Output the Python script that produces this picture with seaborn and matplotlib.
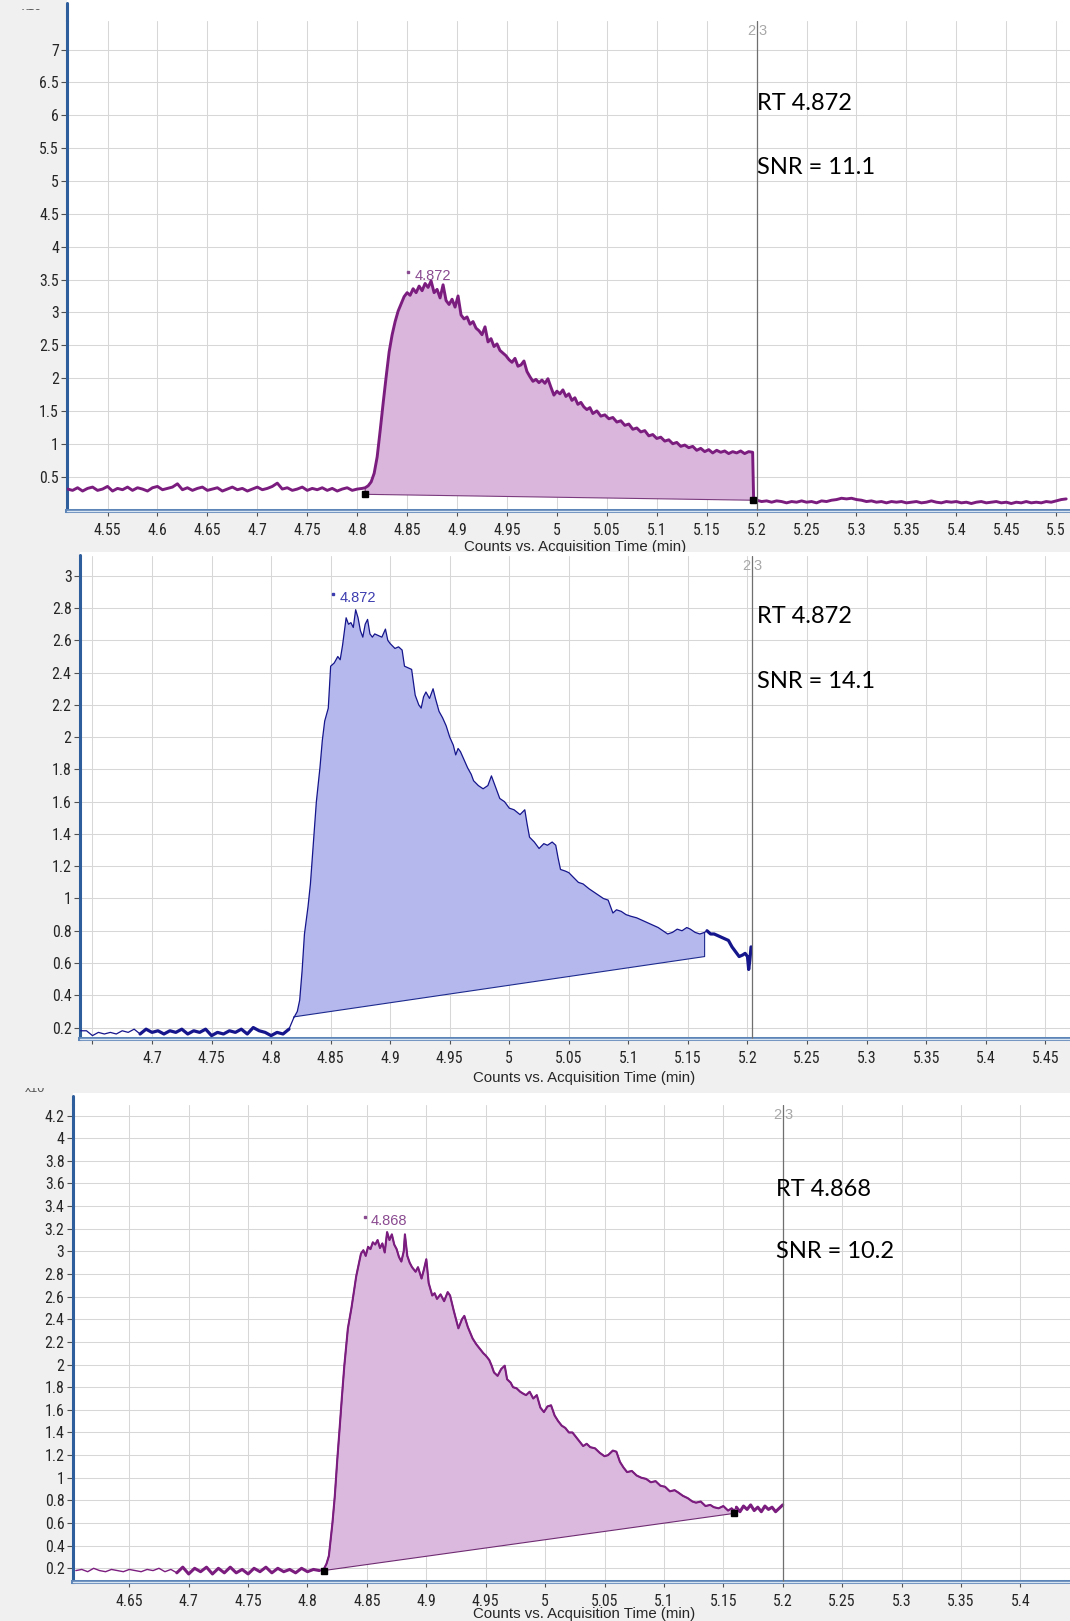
import matplotlib
matplotlib.use("Agg")
import matplotlib.pyplot as plt
from matplotlib import font_manager
from matplotlib.lines import Line2D
from matplotlib.patches import Rectangle
from matplotlib.transforms import Bbox
import seaborn as sns

# ---------------------------------------------------------------- data
XLABEL = "Counts vs. Acquisition Time (min)"

# Chromatogram 1 (purple)
p1_pre_time = [4.510, 4.515, 4.520, 4.525, 4.530, 4.535, 4.540, 4.545, 4.550, 4.555,
               4.560, 4.565, 4.570, 4.575, 4.580, 4.585, 4.590, 4.595, 4.600, 4.605,
               4.610, 4.615, 4.620, 4.625, 4.630, 4.635, 4.640, 4.645, 4.650, 4.655,
               4.660, 4.665, 4.670, 4.675, 4.680, 4.685, 4.690, 4.695, 4.700, 4.705,
               4.710, 4.715, 4.720, 4.725, 4.730, 4.735, 4.740, 4.745, 4.750, 4.755,
               4.760, 4.765, 4.770, 4.775, 4.780, 4.785, 4.790, 4.795, 4.800, 4.805]
p1_pre_counts = [0.31, 0.29, 0.33, 0.28, 0.32, 0.34, 0.29, 0.31, 0.35, 0.28,
                 0.32, 0.30, 0.34, 0.29, 0.33, 0.31, 0.28, 0.33, 0.35, 0.30,
                 0.32, 0.34, 0.39, 0.30, 0.33, 0.29, 0.32, 0.34, 0.29, 0.31,
                 0.33, 0.28, 0.31, 0.34, 0.30, 0.32, 0.28, 0.31, 0.34, 0.30,
                 0.32, 0.35, 0.40, 0.31, 0.33, 0.29, 0.31, 0.34, 0.29, 0.32,
                 0.30, 0.33, 0.29, 0.32, 0.28, 0.31, 0.33, 0.29, 0.31, 0.32]
p1_peak_time = [4.808, 4.811, 4.814, 4.817, 4.820, 4.823, 4.826, 4.829, 4.832, 4.835,
                4.838, 4.841, 4.844, 4.847, 4.850, 4.853, 4.856, 4.859, 4.862, 4.865,
                4.868, 4.871, 4.874, 4.877, 4.880, 4.883, 4.886, 4.889, 4.892, 4.895,
                4.898, 4.901, 4.904, 4.907, 4.910, 4.913, 4.916, 4.919, 4.922, 4.925,
                4.928, 4.931, 4.934, 4.937, 4.940, 4.943, 4.946, 4.949, 4.952, 4.955,
                4.958, 4.961, 4.964, 4.967, 4.970, 4.973, 4.976, 4.979, 4.982, 4.985,
                4.988, 4.991, 4.994, 4.997, 5.000, 5.003, 5.006, 5.009, 5.012, 5.015,
                5.018, 5.021, 5.024, 5.027, 5.030, 5.033, 5.036, 5.040, 5.044, 5.048,
                5.052, 5.056, 5.060, 5.064, 5.068, 5.072, 5.076, 5.080, 5.084, 5.088,
                5.092, 5.096, 5.100, 5.104, 5.108, 5.112, 5.116, 5.120, 5.124, 5.128,
                5.132, 5.136, 5.140, 5.144, 5.148, 5.152, 5.156, 5.160, 5.164, 5.168,
                5.172, 5.176, 5.180, 5.184, 5.188, 5.192, 5.196, 5.197]
p1_peak_counts = [0.33, 0.36, 0.42, 0.55, 0.80, 1.20, 1.62, 2.02, 2.40, 2.66,
                  2.86, 3.02, 3.13, 3.24, 3.30, 3.26, 3.36, 3.30, 3.40, 3.33,
                  3.44, 3.38, 3.48, 3.30, 3.35, 3.22, 3.42, 3.18, 3.12, 3.20,
                  3.08, 3.25, 2.96, 2.90, 2.93, 2.82, 2.86, 2.76, 2.72, 2.66,
                  2.78, 2.55, 2.60, 2.48, 2.52, 2.42, 2.38, 2.34, 2.28, 2.24,
                  2.30, 2.18, 2.20, 2.26, 2.10, 2.02, 1.95, 1.98, 1.93, 1.97,
                  1.92, 1.99, 1.86, 1.74, 1.80, 1.76, 1.82, 1.72, 1.76, 1.66,
                  1.70, 1.60, 1.63, 1.56, 1.52, 1.55, 1.46, 1.50, 1.42, 1.44,
                  1.38, 1.40, 1.33, 1.35, 1.28, 1.30, 1.22, 1.24, 1.18, 1.20,
                  1.12, 1.14, 1.08, 1.10, 1.04, 1.06, 1.00, 1.02, 0.96, 0.98,
                  0.94, 0.96, 0.90, 0.93, 0.88, 0.91, 0.86, 0.90, 0.87, 0.89,
                  0.85, 0.88, 0.86, 0.89, 0.85, 0.88, 0.87, 0.14]
p1_post_time = [5.200, 5.205, 5.210, 5.215, 5.220, 5.225, 5.230, 5.235, 5.240, 5.245,
                5.250, 5.255, 5.260, 5.265, 5.270, 5.275, 5.280, 5.285, 5.290, 5.295,
                5.300, 5.305, 5.310, 5.315, 5.320, 5.325, 5.330, 5.335, 5.340, 5.345,
                5.350, 5.355, 5.360, 5.365, 5.370, 5.375, 5.380, 5.385, 5.390, 5.395,
                5.400, 5.405, 5.410, 5.415, 5.420, 5.425, 5.430, 5.435, 5.440, 5.445,
                5.450, 5.455, 5.460, 5.465, 5.470, 5.475, 5.480, 5.485, 5.490, 5.495,
                5.500, 5.505, 5.510]
p1_post_counts = [0.14, 0.12, 0.13, 0.11, 0.13, 0.12, 0.10, 0.12, 0.11, 0.13,
                  0.11, 0.12, 0.10, 0.13, 0.12, 0.14, 0.15, 0.17, 0.16, 0.17,
                  0.15, 0.14, 0.12, 0.13, 0.11, 0.12, 0.10, 0.12, 0.11, 0.12,
                  0.10, 0.11, 0.12, 0.10, 0.11, 0.13, 0.11, 0.10, 0.12, 0.11,
                  0.12, 0.10, 0.11, 0.09, 0.11, 0.12, 0.10, 0.11, 0.12, 0.10,
                  0.11, 0.09, 0.11, 0.10, 0.12, 0.10, 0.11, 0.10, 0.12, 0.11,
                  0.13, 0.15, 0.16]
p1_base_time = [4.808, 5.196]
p1_base_counts = [0.23, 0.14]
p1_rt, p1_snr = "4.872", "11.1"

# Chromatogram 2 (blue)
p2_lead_time = [4.640, 4.645, 4.650, 4.655, 4.660, 4.665, 4.670, 4.675, 4.680, 4.685]
p2_lead_counts = [0.18, 0.18, 0.15, 0.17, 0.16, 0.17, 0.16, 0.18, 0.17, 0.19]
p2_pre_time = [4.690, 4.695, 4.700, 4.705, 4.710, 4.715, 4.720, 4.725, 4.730, 4.735,
               4.740, 4.745, 4.750, 4.755, 4.760, 4.765, 4.770, 4.775, 4.780, 4.785,
               4.790, 4.795, 4.800, 4.805, 4.810, 4.815]
p2_pre_counts = [0.16, 0.19, 0.17, 0.18, 0.16, 0.18, 0.17, 0.19, 0.16, 0.18,
                 0.17, 0.19, 0.15, 0.17, 0.16, 0.18, 0.17, 0.19, 0.16, 0.20,
                 0.18, 0.17, 0.15, 0.17, 0.16, 0.19]
p2_peak_time = [4.819, 4.822, 4.824, 4.826, 4.828, 4.831, 4.833, 4.836, 4.838, 4.841,
                4.843, 4.845, 4.848, 4.850, 4.853, 4.856, 4.858, 4.860, 4.863, 4.865,
                4.867, 4.869, 4.871, 4.873, 4.875, 4.877, 4.879, 4.881, 4.883, 4.885,
                4.887, 4.890, 4.893, 4.896, 4.898, 4.900, 4.904, 4.907, 4.910, 4.912,
                4.915, 4.918, 4.921, 4.924, 4.926, 4.928, 4.930, 4.933, 4.936, 4.938,
                4.941, 4.944, 4.947, 4.950, 4.953, 4.955, 4.957, 4.959, 4.962, 4.965,
                4.968, 4.970, 4.974, 4.978, 4.982, 4.985, 4.988, 4.992, 4.996, 5.000,
                5.004, 5.009, 5.013, 5.015, 5.017, 5.021, 5.025, 5.029, 5.032, 5.036,
                5.039, 5.041, 5.043, 5.047, 5.050, 5.054, 5.058, 5.062, 5.067, 5.071,
                5.075, 5.079, 5.083, 5.087, 5.090, 5.094, 5.098, 5.102, 5.107, 5.113,
                5.119, 5.125, 5.129, 5.133, 5.137, 5.141, 5.145, 5.149, 5.152, 5.156,
                5.160, 5.164]
p2_peak_counts = [0.26, 0.30, 0.37, 0.55, 0.78, 0.95, 1.09, 1.40, 1.60, 1.81,
                  1.98, 2.10, 2.18, 2.44, 2.46, 2.50, 2.48, 2.57, 2.74, 2.70,
                  2.71, 2.68, 2.79, 2.74, 2.66, 2.62, 2.70, 2.73, 2.64, 2.62,
                  2.64, 2.63, 2.62, 2.67, 2.60, 2.58, 2.55, 2.56, 2.54, 2.44,
                  2.43, 2.42, 2.26, 2.20, 2.18, 2.25, 2.28, 2.24, 2.30, 2.24,
                  2.16, 2.12, 2.07, 2.00, 1.95, 1.89, 1.93, 1.91, 1.86, 1.81,
                  1.77, 1.73, 1.70, 1.68, 1.70, 1.76, 1.70, 1.62, 1.60, 1.56,
                  1.55, 1.52, 1.55, 1.46, 1.38, 1.35, 1.31, 1.34, 1.33, 1.35,
                  1.33, 1.25, 1.18, 1.17, 1.16, 1.13, 1.10, 1.09, 1.06, 1.04,
                  1.02, 1.00, 0.99, 0.91, 0.93, 0.92, 0.90, 0.89, 0.88, 0.86,
                  0.84, 0.82, 0.80, 0.78, 0.79, 0.81, 0.80, 0.82, 0.81, 0.79,
                  0.78, 0.79]
p2_post_time = [5.166, 5.169, 5.172, 5.175, 5.178, 5.181, 5.184, 5.187, 5.190, 5.193,
                5.196, 5.198, 5.200, 5.201, 5.202, 5.203]
p2_post_counts = [0.80, 0.78, 0.78, 0.77, 0.76, 0.75, 0.74, 0.70, 0.67, 0.64,
                  0.65, 0.66, 0.64, 0.56, 0.62, 0.70]
p2_base_time = [4.819, 5.164]
p2_base_counts = [0.266, 0.64]
p2_rt, p2_snr = "4.872", "14.1"

# Chromatogram 3 (purple)
p3_lead_time = [4.605, 4.610, 4.615, 4.620, 4.625, 4.630, 4.635, 4.640, 4.645, 4.650,
                4.655, 4.660, 4.665, 4.670, 4.675, 4.680, 4.685]
p3_lead_counts = [0.18, 0.19, 0.17, 0.20, 0.18, 0.17, 0.19, 0.18, 0.17, 0.19,
                  0.18, 0.17, 0.19, 0.18, 0.20, 0.17, 0.19]
p3_pre_time = [4.690, 4.695, 4.700, 4.705, 4.710, 4.715, 4.720, 4.725, 4.730, 4.735,
               4.740, 4.745, 4.750, 4.755, 4.760, 4.765, 4.770, 4.775, 4.780, 4.785,
               4.790, 4.795, 4.800, 4.805, 4.810]
p3_pre_counts = [0.16, 0.21, 0.15, 0.20, 0.17, 0.21, 0.15, 0.20, 0.16, 0.21,
                 0.16, 0.19, 0.15, 0.20, 0.17, 0.21, 0.16, 0.20, 0.17, 0.19,
                 0.16, 0.20, 0.17, 0.19, 0.18]
p3_peak_time = [4.8136, 4.816, 4.818, 4.821, 4.823, 4.825, 4.827, 4.829, 4.831, 4.834,
                4.837, 4.839, 4.841, 4.843, 4.845, 4.847, 4.849, 4.851, 4.853, 4.855,
                4.857, 4.859, 4.861, 4.863, 4.865, 4.867, 4.869, 4.871, 4.873, 4.875,
                4.877, 4.879, 4.881, 4.882, 4.884, 4.886, 4.888, 4.891, 4.893, 4.896,
                4.898, 4.900, 4.902, 4.905, 4.907, 4.909, 4.912, 4.915, 4.918, 4.920,
                4.923, 4.925, 4.927, 4.930, 4.932, 4.935, 4.937, 4.939, 4.942, 4.945,
                4.948, 4.950, 4.953, 4.955, 4.957, 4.960, 4.963, 4.966, 4.968, 4.971,
                4.973, 4.976, 4.979, 4.982, 4.984, 4.987, 4.990, 4.993, 4.996, 4.999,
                5.002, 5.005, 5.008, 5.011, 5.014, 5.017, 5.020, 5.023, 5.026, 5.029,
                5.032, 5.035, 5.038, 5.042, 5.046, 5.050, 5.053, 5.057, 5.060, 5.063,
                5.066, 5.069, 5.073, 5.077, 5.081, 5.085, 5.089, 5.093, 5.097, 5.101,
                5.105, 5.109, 5.112, 5.116, 5.120, 5.124, 5.127, 5.131, 5.135, 5.139,
                5.142, 5.146, 5.150, 5.154, 5.157, 5.159]
p3_peak_counts = [0.19, 0.24, 0.31, 0.60, 0.84, 1.15, 1.43, 1.72, 1.99, 2.32,
                  2.50, 2.64, 2.78, 2.88, 2.98, 3.01, 2.96, 3.04, 3.02, 3.08,
                  3.06, 3.10, 3.03, 3.07, 2.99, 3.17, 3.10, 3.15, 3.06, 3.02,
                  2.95, 2.91, 3.00, 3.15, 2.96, 2.90, 2.86, 2.82, 2.86, 2.76,
                  2.84, 2.93, 2.72, 2.61, 2.63, 2.58, 2.62, 2.56, 2.64, 2.61,
                  2.48, 2.40, 2.32, 2.40, 2.43, 2.33, 2.28, 2.23, 2.18, 2.14,
                  2.10, 2.08, 2.04, 1.99, 1.93, 1.90, 1.96, 1.99, 1.87, 1.84,
                  1.80, 1.79, 1.76, 1.74, 1.73, 1.76, 1.70, 1.73, 1.62, 1.58,
                  1.63, 1.64, 1.55, 1.50, 1.46, 1.44, 1.40, 1.40, 1.36, 1.32,
                  1.28, 1.30, 1.27, 1.26, 1.22, 1.19, 1.20, 1.24, 1.23, 1.14,
                  1.09, 1.05, 1.06, 1.02, 1.00, 0.99, 0.96, 0.97, 0.93, 0.92,
                  0.88, 0.89, 0.87, 0.84, 0.82, 0.79, 0.78, 0.79, 0.75, 0.76,
                  0.74, 0.73, 0.75, 0.71, 0.73, 0.71]
p3_post_time = [5.161, 5.164, 5.167, 5.170, 5.173, 5.176, 5.179, 5.182, 5.185, 5.188,
                5.191, 5.194, 5.197, 5.200]
p3_post_counts = [0.74, 0.70, 0.75, 0.72, 0.76, 0.71, 0.74, 0.70, 0.75, 0.72,
                  0.74, 0.70, 0.73, 0.76]
p3_base_time = [4.8136, 5.159]
p3_base_counts = [0.18, 0.685]
p3_rt, p3_snr = "4.868", "10.2"

# axis ticks
p1_xticks = [4.55, 4.6, 4.65, 4.7, 4.75, 4.8, 4.85, 4.9, 4.95, 5.0, 5.05, 5.1,
             5.15, 5.2, 5.25, 5.3, 5.35, 5.4, 5.45, 5.5]
p1_yticks = [0.5, 1, 1.5, 2, 2.5, 3, 3.5, 4, 4.5, 5, 5.5, 6, 6.5, 7]
p2_xticks = [4.65, 4.7, 4.75, 4.8, 4.85, 4.9, 4.95, 5.0, 5.05, 5.1, 5.15, 5.2,
             5.25, 5.3, 5.35, 5.4, 5.45]
p2_xticklabels = ["", "4.7", "4.75", "4.8", "4.85", "4.9", "4.95", "5", "5.05", "5.1",
                  "5.15", "5.2", "5.25", "5.3", "5.35", "5.4", "5.45"]
p2_yticks = [0.2, 0.4, 0.6, 0.8, 1, 1.2, 1.4, 1.6, 1.8, 2, 2.2, 2.4, 2.6, 2.8, 3]
p3_xticks = [4.65, 4.7, 4.75, 4.8, 4.85, 4.9, 4.95, 5.0, 5.05, 5.1, 5.15, 5.2,
             5.25, 5.3, 5.35, 5.4]
p3_yticks = [0.2, 0.4, 0.6, 0.8, 1, 1.2, 1.4, 1.6, 1.8, 2, 2.2, 2.4, 2.6, 2.8,
             3, 3.2, 3.4, 3.6, 3.8, 4, 4.2]

# ---------------------------------------------------------------- style
sns.set_theme(style="ticks")
plt.rcParams["font.family"] = ["Liberation Sans", "DejaVu Sans"]
installed = {f.name for f in font_manager.fontManager.ttflist}
NOTE_FONT = next((n for n in ["Lato", "Open Sans", "Noto Sans"] if n in installed),
                 "DejaVu Sans")
NARROW = next((n for n in ["Liberation Sans Narrow", "Roboto Condensed",
                           "Open Sans Condensed"] if n in installed), None)
if NARROW:
    TICK_FONT, TICK_SIZE = [NARROW, "DejaVu Sans"], 11.4
else:
    TICK_FONT, TICK_SIZE = ["Liberation Sans", "DejaVu Sans"], 9.6

W, H = 1070, 1621
fig = plt.figure(figsize=(W / 100, H / 100), dpi=100)
fig.patch.set_facecolor("#f0f0f0")

SPINE_BLUE = "#2f5e9c"
GRID = "#d7d7d7"
TICK_TXT = "#262626"


def fx(px):
    return px / W


def fy(py):
    return 1 - py / H


def fmt(v):
    return f"{round(v, 2):g}"


def clip_to(t, x0, y0, x1, y1):
    t.set_clip_box(Bbox.from_extents(x0, H - y1, x1, H - y0))
    t.set_clip_on(True)


def draw_panel(cfg):
    x0, y0, x1, y1 = cfg["box"]
    hy = cfg["header_top"]
    # white band above the plotting area (header strip)
    fig.add_artist(Rectangle((fx(x0), fy(y0)), fx(x1) - fx(x0), fy(hy) - fy(y0),
                             transform=fig.transFigure, facecolor="white",
                             edgecolor="none", zorder=0.5))
    fig.add_artist(Line2D([fx(x0), fx(x0)], [fy(hy + 3), fy(y0)],
                          transform=fig.transFigure, color=SPINE_BLUE, lw=2.2,
                          zorder=0.6))

    ax = fig.add_axes([fx(x0), fy(y1), fx(x1) - fx(x0), fy(y0) - fy(y1)])
    ax.set_facecolor("white")
    ax.set_xlim(*cfg["xlim"])
    ax.set_ylim(*cfg["ylim"])
    ax.grid(True, color=GRID, linewidth=0.75)
    ax.set_axisbelow(True)

    # integrated area between the trace and the drawn baseline
    pt, pc = cfg["peak"]
    bt, bc = cfg["base"]
    ax.fill([bt[0]] + pt + [bt[1]], [bc[0]] + pc + [bc[1]],
            color=cfg["fill"], lw=0, zorder=1.5)
    ax.plot([pt[-1], bt[1], bt[0], pt[0]], [pc[-1], bc[1], bc[0], pc[0]],
            color=cfg["edge"], lw=0.8, zorder=2)

    # full trace, then heavier overlay segments
    full_t, full_c = [], []
    for t, c in cfg["segments"]:
        full_t += t
        full_c += c
    sns.lineplot(x=full_t, y=full_c, ax=ax, color=cfg["line"], linewidth=cfg["lw"],
                 estimator=None, sort=False, zorder=3)
    for (t, c), w in cfg["thick"]:
        sns.lineplot(x=t, y=c, ax=ax, color=cfg["line"], linewidth=w,
                     estimator=None, sort=False, zorder=3)

    if cfg["squares"]:
        ax.plot(bt, bc, ls="none", marker="s", ms=4.4, color="black", zorder=6)

    # apex label
    mx, my, tx, ty, txt = cfg["apex"]
    ax.plot([mx], [my], ls="none", marker="s", ms=1.6, color=cfg["apex_color"], zorder=6)
    ax.text(tx, ty, txt, color=cfg["apex_color"], fontsize=10.5, ha="left",
            va="center", zorder=6)

    # cursor line
    cx = cfg["cursor"]
    ax.axvline(cx, color="#6f6f6f", lw=0.9, zorder=4)
    for s, dx, ha in (("2", -1.5, "right"), ("3", 1.5, "left")):
        ax.annotate(s, xy=(cx, 1), xycoords=("data", "axes fraction"),
                    xytext=(dx, -10), textcoords="offset pixels", ha=ha,
                    va="center", fontsize=10.5, color="#a8a8a8")

    # axes frame
    for side in ("top", "right"):
        ax.spines[side].set_visible(False)
    ax.spines["left"].set_color(SPINE_BLUE)
    ax.spines["left"].set_linewidth(2.2)
    ax.spines["bottom"].set_color("#5e85b7")
    ax.spines["bottom"].set_linewidth(2.9)
    ax.plot([0, 1], [0, 0], transform=ax.transAxes, color="#d7e5f3", lw=1.0,
            clip_on=False, zorder=5)

    ax.set_xticks(cfg["xticks"])
    ax.set_xticklabels(cfg["xticklabels"], family=TICK_FONT)
    ax.set_yticks(cfg["yticks"])
    ax.set_yticklabels([fmt(v) for v in cfg["yticks"]], family=TICK_FONT)
    ax.tick_params(axis="x", direction="out", length=3.8, width=0.8,
                   color="#505050", pad=4.6, labelsize=TICK_SIZE, labelcolor=TICK_TXT)
    ax.tick_params(axis="y", direction="out", length=4.3, width=0.8,
                   color="#505050", pad=1.5, labelsize=TICK_SIZE, labelcolor=TICK_TXT)
    ax.set_xlabel("")
    ax.set_ylabel("")

    # axis title, RT / SNR notes
    lx, ly = cfg["xlabel_xy"]
    t = fig.text(fx(lx), fy(ly), XLABEL, ha="center", va="center", fontsize=10.8,
                 color=TICK_TXT)
    if cfg.get("xlabel_clip"):
        clip_to(t, 0, 0, W, cfg["xlabel_clip"])
    nx, ny_rt, ny_snr = cfg["notes_xy"]
    rt, snr = cfg["notes"]
    fig.text(fx(nx), fy(ny_rt), f"RT {rt}", ha="left", va="center", fontsize=17,
             family=NOTE_FONT, color="black")
    fig.text(fx(nx), fy(ny_snr), f"SNR = {snr}", ha="left", va="center", fontsize=17,
             family=NOTE_FONT, color="black")

    if cfg.get("scale_tag"):
        sx, sy, c0, c1 = cfg["scale_tag"]
        st = fig.text(fx(sx), fy(sy), "x10", ha="left", va="bottom", fontsize=9,
                      color="#555555")
        clip_to(st, 0, c0, W, c1)
    return ax


PURPLE = "#7b1c7f"
BLUE = "#15158c"

draw_panel(dict(
    box=(67, 21, 1070, 511), header_top=0,
    xlim=(4.5094, 5.5138), ylim=(-0.024, 7.436),
    segments=[(p1_pre_time, p1_pre_counts), (p1_peak_time, p1_peak_counts),
              (p1_post_time, p1_post_counts)],
    thick=[], lw=2.1, line=PURPLE,
    peak=(p1_peak_time, p1_peak_counts), base=(p1_base_time, p1_base_counts),
    fill="#dab6dd", edge="#7a3a7d", squares=True,
    apex=(4.8512, 3.62, 4.858, 3.555, p1_rt), apex_color="#8a4a90",
    cursor=5.2, xticks=p1_xticks, xticklabels=[fmt(v) for v in p1_xticks],
    yticks=p1_yticks, xlabel_xy=(575, 547), xlabel_clip=552,
    notes_xy=(757, 103.5, 167.5), notes=(p1_rt, p1_snr),
    scale_tag=(22, 13, 9, 14),
))

draw_panel(dict(
    box=(79.6, 556, 1070, 1039), header_top=552,
    xlim=(4.6392, 5.4708), ylim=(0.129, 3.123),
    segments=[(p2_lead_time, p2_lead_counts), (p2_pre_time, p2_pre_counts),
              (p2_peak_time, p2_peak_counts), (p2_post_time, p2_post_counts)],
    thick=[((p2_pre_time, p2_pre_counts), 2.3), ((p2_post_time, p2_post_counts), 2.3)],
    lw=0.9, line=BLUE,
    peak=(p2_peak_time, p2_peak_counts), base=(p2_base_time, p2_base_counts),
    fill="#b4b8ec", edge="#1d2a8e", squares=False,
    apex=(4.8522, 2.886, 4.8575, 2.86, p2_rt), apex_color="#3d3db0",
    cursor=5.204, xticks=p2_xticks, xticklabels=p2_xticklabels,
    yticks=p2_yticks, xlabel_xy=(584, 1078),
    notes_xy=(757, 617, 682), notes=(p2_rt, p2_snr),
))

draw_panel(dict(
    box=(72.5, 1105, 1070, 1582), header_top=1093,
    xlim=(4.6022, 5.4418), ylim=(0.079, 4.293),
    segments=[(p3_lead_time, p3_lead_counts), (p3_pre_time, p3_pre_counts),
              (p3_peak_time, p3_peak_counts), (p3_post_time, p3_post_counts)],
    thick=[((p3_pre_time, p3_pre_counts), 2.2), ((p3_peak_time, p3_peak_counts), 1.5),
           ((p3_post_time, p3_post_counts), 2.2)],
    lw=1.0, line=PURPLE,
    peak=(p3_peak_time, p3_peak_counts), base=(p3_base_time, p3_base_counts),
    fill="#dbb9de", edge="#6f2b72", squares=True,
    apex=(4.8485, 3.305, 4.8535, 3.268, p3_rt), apex_color="#8a4a90",
    cursor=5.2, xticks=p3_xticks, xticklabels=[fmt(v) for v in p3_xticks],
    yticks=p3_yticks, xlabel_xy=(584, 1614),
    notes_xy=(776, 1189, 1252), notes=(p3_rt, p3_snr),
    scale_tag=(25, 1095, 1088, 1093),
))

fig.savefig("out.png", dpi=100, facecolor=fig.get_facecolor())
